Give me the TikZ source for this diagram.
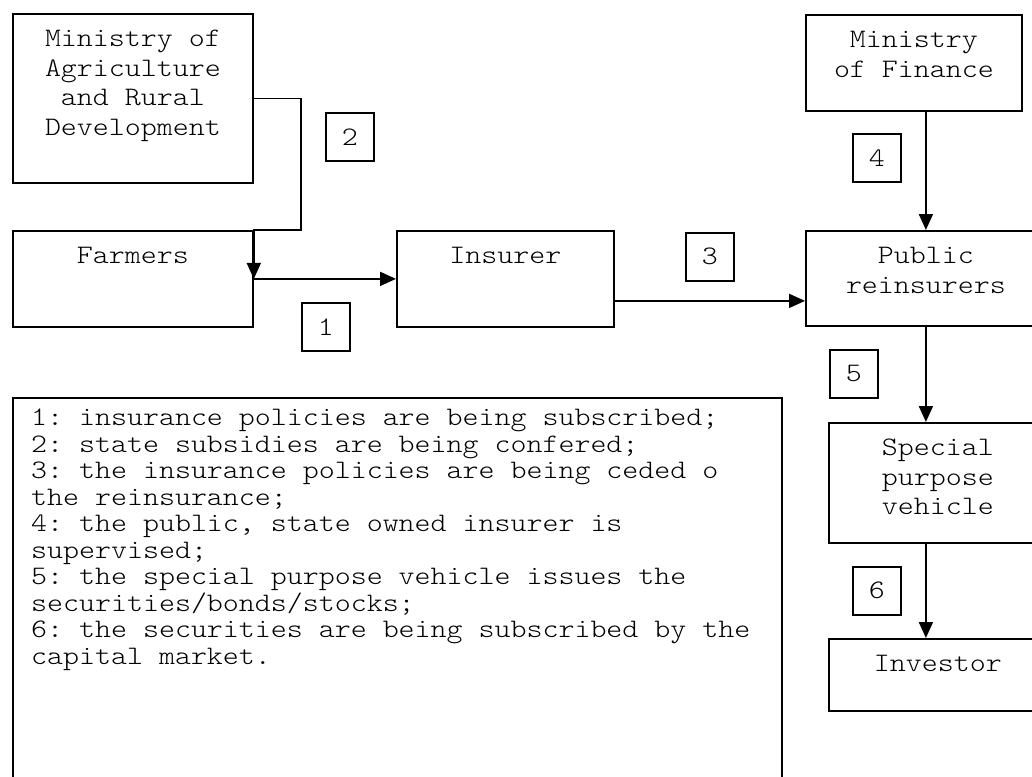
\documentclass[tikz,border=0pt]{standalone}
\usepackage{fontspec}
\newfontfamily\courier[FakeStretch=1.14]{lmmonolt10-regular.otf}
\usetikzlibrary{arrows.meta,positioning}

\newcommand{\boxfont}{\courier\frenchspacing\fontsize{26.7pt}{29.5pt}\selectfont}
\newcommand{\notefont}{\courier\frenchspacing\fontsize{26.7pt}{26.5pt}\selectfont}

\begin{document}
\begin{tikzpicture}[x=1pt, y=-1pt,
  frame/.style={draw, line width=1.8pt, anchor=north west, inner sep=0pt},
  numbox/.style={draw, line width=1.6pt, minimum width=48pt, minimum height=48pt,
    anchor=north west, inner sep=0pt, font=\boxfont},
  words/.style={align=center, inner sep=0pt, font=\boxfont},
  link/.style={line width=1.8pt, -{Triangle[length=16pt, width=14pt]}},
]
  \useasboundingbox (0,0) rectangle (1032,776);
  \fill[white] (0,0) rectangle (1032,776);
  \clip (0,0) rectangle (1032,776);

  % left part
  \node[frame, minimum width=240pt, minimum height=169pt] (ma) at (12,13) {};
  \node[words, below=17pt of ma.north] (maT)
    {Ministry of\\Agriculture\\and Rural\\Development};
  \node[frame, minimum width=240pt, minimum height=96pt] (fa) at (12,230) {};
  \node[words, below=17pt of fa.north] (faT) {Farmers};
  \node[frame, minimum width=217pt, minimum height=96pt] (in) at (396,230) {};
  \node[words, below=17pt of in.north] (inT) {Insurer};

  % right column
  \node[frame, minimum width=216pt, minimum height=96pt] (mf) at (805,14) {};
  \node[words, below=17pt of mf.north] (mfT) {Ministry\\of Finance};
  \node[frame, minimum width=240pt, minimum height=95pt] (pr) at (805,230) {};
  \node[words, below=17pt of pr.north] (prT) {Public\\reinsurers};
  \node[frame, minimum width=218pt, minimum height=120pt] (sp) at (828,422) {};
  \node[words, below=17pt of sp.north] (spT) {Special\\purpose\\vehicle};
  \node[frame, minimum width=218pt, minimum height=72pt] (iv) at (828,638) {};
  \node[words, below=17pt of iv.north] (ivT) {Investor};

  % numbers
  \node[numbox] (n1) at (301,302) {1};
  \node[numbox] (n2) at (325,112) {2};
  \node[numbox] (n3) at (685,232) {3};
  \node[numbox] (n4) at (852,133) {4};
  \node[numbox] (n5) at (829,349) {5};
  \node[numbox] (n6) at (852,566) {6};

  % flows
  \coordinate (bend) at (301,230);
  \draw[link] (ma.east) -| (bend) -| (fa.east);
  \draw[link] (fa.east) -- (in.west);
  \draw[link] ([yshift=-22pt]in.east) -- ([yshift=-22pt]in.east -| pr.west);
  \draw[link] ([xshift=12pt]mf.south) -- ([xshift=12pt]mf.south |- pr.north);
  \draw[link] (pr.south) -- (pr.south |- sp.north);
  \draw[link] (pr.south |- sp.south) -- (pr.south |- iv.north);

  % legend
  \node[frame, minimum width=769pt, minimum height=400pt] (notes) at (12,397) {};
  \node[anchor=north west, align=left, inner sep=0pt, font=\notefont,
    below right=12pt and 19pt of notes.north west] (notesT)
    {1: insurance policies are being subscribed;\\
     2: state subsidies are being confered;\\
     3: the insurance policies are being ceded o\\
     the reinsurance;\\
     4: the public, state owned insurer is\\
     supervised;\\
     5: the special purpose vehicle issues the\\
     securities/bonds/stocks;\\
     6: the securities are being subscribed by the\\
     capital market.};
\end{tikzpicture}
\end{document}
